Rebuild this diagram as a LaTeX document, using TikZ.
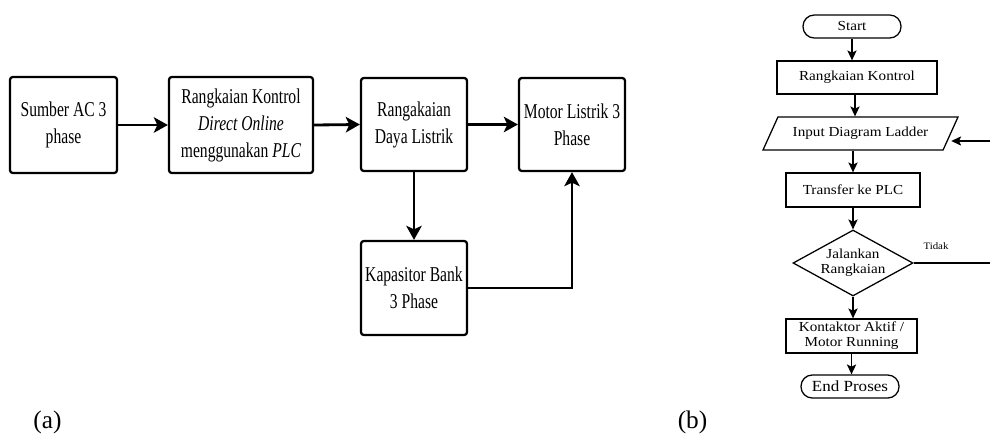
\documentclass[tikz,border=0pt]{standalone}
\usepackage{fontspec}
\setmainfont{Liberation Serif}
\newfontfamily\narrowserif[FakeStretch=0.74]{Liberation Serif}
\newfontfamily\wideserif[FakeStretch=1.1]{Liberation Serif}
\usetikzlibrary{shapes.geometric,arrows.meta,positioning,calc}
\newdimen\pxu
\pxu=0.025cm

\begin{document}
\begin{tikzpicture}
[x=0.025cm,y=-0.025cm,
 blok/.style={draw,line width=1.6pt,rounded corners=2pt,align=center,inner sep=0pt,
   font=\narrowserif\fontsize{15}{19.2}\selectfont},
 langkah/.style={draw,line width=0.9pt,align=center,inner sep=0pt,
   font=\wideserif\fontsize{9.8}{10.7}\selectfont},
 terminal/.style={langkah,rounded corners=8pt,minimum width=98\pxu,minimum height=23\pxu},
 keputusan/.style={langkah,diamond,aspect=1.82,minimum width=120\pxu,minimum height=66\pxu},
 masukan/.style={langkah,trapezium,trapezium left angle=40,trapezium right angle=140,
   trapezium stretches body,minimum width=195\pxu,minimum height=33\pxu},
 panah/.style={-{Stealth[length=10pt,width=11pt,inset=2.5pt]},line width=2pt},
 alur/.style={-{Stealth[length=7pt,width=6.5pt,inset=1.5pt]},line width=1.1pt},
 huruf/.style={anchor=base,font=\fontsize{18}{20}\selectfont}]
\useasboundingbox (0,0) rectangle (990,435);
\clip (0,0) rectangle (990,435);
\draw (63.5,125) node[blok,minimum width=107\pxu,minimum height=96\pxu] (sumber) {Sumber AC 3\\phase};
\draw (241,125) node[blok,minimum width=144\pxu,minimum height=96\pxu] (kontrol) {Rangkaian Kontrol\\\textit{Direct Online}\\menggunakan \textit{PLC}};
\draw (414,124.5) node[blok,minimum width=106\pxu,minimum height=93\pxu] (daya) {Rangakaian\\Daya Listrik};
\draw (572,124.5) node[blok,minimum width=106\pxu,minimum height=93\pxu] (motor) {Motor Listrik 3\\Phase};
\draw (414,288) node[blok,minimum width=106\pxu,minimum height=94\pxu] (kapasitor) {Kapasitor Bank\\3 Phase};
\draw[panah] (sumber.east) -- (kontrol.west);
\draw[panah] (kontrol.east) -- (daya.west);
\draw[panah] (daya.east) -- (motor.west);
\draw[panah] (daya.south) -- (kapasitor.north);
\draw[panah] (kapasitor.east) -| (motor.south);
\draw (852,26.5) node[terminal] (start) {Start};
\draw (857,77.5) node[langkah,minimum width=160\pxu,minimum height=33\pxu] (rkontrol) {Rangkaian Kontrol};
\draw (860.5,133.5) node[masukan] (ladder) {Input Diagram Ladder};
\draw (853,190) node[langkah,minimum width=134\pxu,minimum height=34\pxu] (transfer) {Transfer ke PLC};
\draw (853,263) node[keputusan] (jalankan) {Jalankan\\Rangkaian};
\draw (851.5,336) node[langkah,minimum width=131\pxu,minimum height=34\pxu] (aktif) {Kontaktor Aktif /\\Motor Running};
\draw (850,386.5) node[terminal,font=\wideserif\fontsize{11}{12}\selectfont] (selesai) {End Proses};
\draw (936,246) node[font=\wideserif\fontsize{7}{8}\selectfont] (tidak) {Tidak};
\coordinate (balik) at (1000,141);
\draw[alur] (start.south) -- (start.south |- rkontrol.north);
\draw[alur] (rkontrol.south -| 855,0) -- (855,0 |- ladder.north);
\draw[alur] (853,0 |- ladder.south) -- (transfer.north);
\draw[alur] (transfer.south) -- (jalankan.north);
\draw[alur] (jalankan.south) -- (jalankan.south |- aktif.north);
\draw[alur] (aktif.south) -- (aktif.south |- selesai.north);
\draw[alur] (jalankan.east) -- (jalankan.east -| balik) -- (balik) -- (ladder.east |- balik);
\draw (47.5,428) node[huruf] (a) {(a)};
\draw (692.5,428) node[huruf] (b) {(b)};
\end{tikzpicture}
\end{document}
